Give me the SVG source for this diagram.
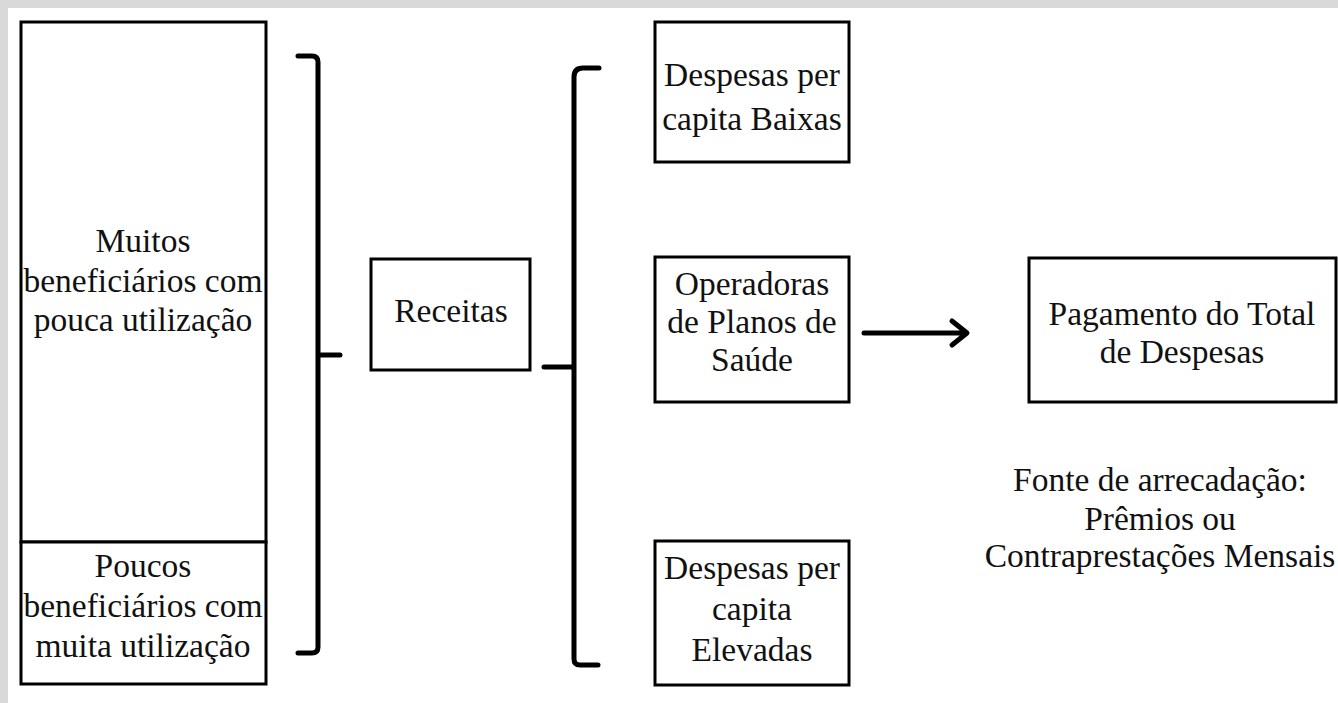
<svg xmlns="http://www.w3.org/2000/svg" width="1338" height="703" viewBox="0 0 1338 703">
<style>
.box{fill:#fff;stroke:#000;stroke-width:3}
.br{fill:none;stroke:#000;stroke-width:5;stroke-linecap:round;stroke-linejoin:round}
text{font-family:"Liberation Serif","Times New Roman",serif;font-size:33.5px;fill:#111;text-anchor:middle}
</style>
<rect width="1338" height="703" fill="#fff"/>
<rect x="0" y="0" width="1338" height="8" fill="#d9d9d9"/>
<rect x="0" y="0" width="8" height="703" fill="#d9d9d9"/>
<g id="muitos">
<rect class="box" x="21" y="22" width="245" height="520"/>
<text x="143" y="252">Muitos</text>
<text x="143" y="292">beneficiários com</text>
<text x="143" y="331">pouca utilização</text>
</g>
<g id="poucos">
<rect class="box" x="21" y="542" width="245" height="142"/>
<text x="143" y="577">Poucos</text>
<text x="143" y="617">beneficiários com</text>
<text x="143" y="657">muita utilização</text>
</g>
<g id="receitas">
<rect class="box" x="371" y="259" width="159" height="111"/>
<text x="451" y="322">Receitas</text>
</g>
<g id="baixas">
<rect class="box" x="655" y="22" width="194" height="140"/>
<text x="752" y="86">Despesas per</text>
<text x="752" y="130">capita Baixas</text>
</g>
<g id="operadoras">
<rect class="box" x="655" y="257" width="194" height="145"/>
<text x="752" y="295">Operadoras</text>
<text x="752" y="333">de Planos de</text>
<text x="752" y="371">Saúde</text>
</g>
<g id="elevadas">
<rect class="box" x="655" y="541" width="194" height="144"/>
<text x="752" y="579">Despesas per</text>
<text x="752" y="620">capita</text>
<text x="752" y="661">Elevadas</text>
</g>
<g id="pagamento">
<rect class="box" x="1029" y="258" width="307" height="144"/>
<text x="1182" y="325">Pagamento do Total</text>
<text x="1182" y="363">de Despesas</text>
</g>
<g id="fonte">
<text x="1160" y="491">Fonte de arrecadação:</text>
<text x="1160" y="530">Prêmios ou</text>
<text x="1160" y="567">Contraprestações Mensais</text>
</g>
<g id="connectors">
<path class="br" d="M298 56 H312 Q318 56 318 62 V647 Q318 653 312 653 H298 M318 355 H340"/>
<path class="br" d="M599 68 H583 Q574 68 574 77 V659 Q574 665 580 665 H598 M544 367 H574"/>
<path class="br" d="M864 333 H966 M952 321 L967 333 L952 345"/>
</g>
</svg>
